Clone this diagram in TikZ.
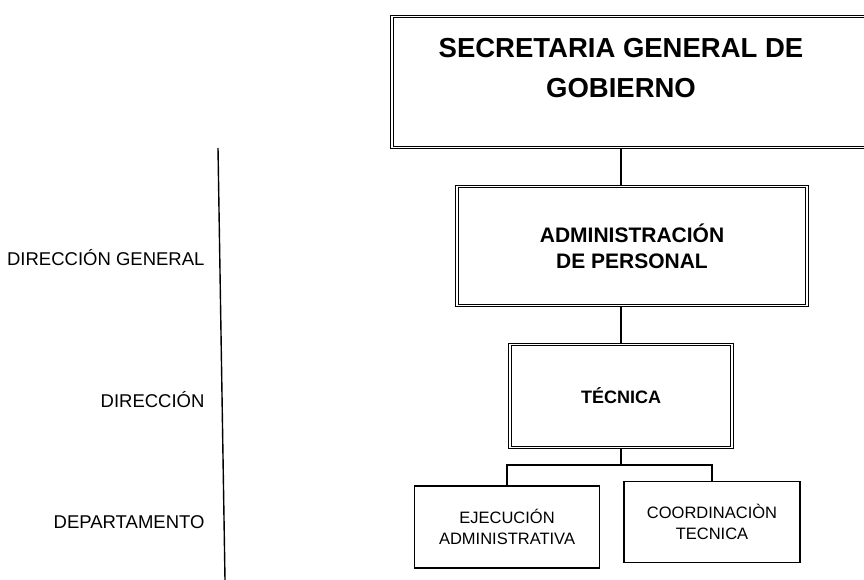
\documentclass[tikz,border=0pt]{standalone}
\usepackage{fontspec}
\setmainfont{Liberation Sans}
\usetikzlibrary{
  calc,
  positioning,
}
\tikzstyle{unit} = [
  rectangle,
  draw,
  line width=1pt,
  double,
  double distance=1.6pt,
  align=center,
  font=\bfseries,
]
\tikzstyle{dept} = [
  rectangle,
  draw,
  line width=1.3pt,
  align=center,
  font=\fontsize{16.5}{21}\selectfont,
]
\tikzstyle{level} = [
  anchor=east,
  font=\fontsize{18.5}{22}\selectfont,
]

\begin{document}
\begin{tikzpicture}[x=1pt,y=-1pt]
			\useasboundingbox (0,0) rectangle (864,580);

			\node[unit,minimum width=488,minimum height=131] (sgg) at (636,82) {};
			\node[align=center,font=\fontsize{27.5}{40}\selectfont\bfseries] (sggtext) at (621,68) {SECRETARIA GENERAL DE\\GOBIERNO};
			\node[unit,minimum width=350,minimum height=119,font=\fontsize{21}{26}\selectfont\bfseries] (adm) at (632,246) {ADMINISTRACIÓN\\DE PERSONAL};
			\node[unit,minimum width=222,minimum height=103,font=\fontsize{18}{22}\selectfont\bfseries] (tec) at (621,396) {TÉCNICA};
			\node[dept,minimum width=185,minimum height=82] (eje) at (507,527) {EJECUCIÓN\\ADMINISTRATIVA};
			\node[dept,minimum width=176,minimum height=81] (coo) at (712,522) {COORDINACIÒN\\TECNICA};

			\node[level] (lvl1) at (208,258) {DIRECCIÓN GENERAL};
			\node[level] (lvl2) at (208,400) {DIRECCIÓN};
			\node[level] (lvl3) at (208,522) {DEPARTAMENTO};

			\coordinate (rulertop) at (218,148);
			\coordinate (rulerbot) at (225,580);
			\draw[line width=1.4pt] (rulertop) -- (rulerbot);

			\draw[line width=1.3pt] (tec.north |- sgg.south) -- (tec.north |- adm.north);
			\draw[line width=1.3pt] (tec.north |- adm.south) -- (tec.north);
			\draw[line width=1.3pt] (tec.south) -- ++(0,17) coordinate (fork);
			\draw[line width=1.3pt] (eje.north) |- (fork) -| (coo.north);
		\end{tikzpicture}
\end{document}
